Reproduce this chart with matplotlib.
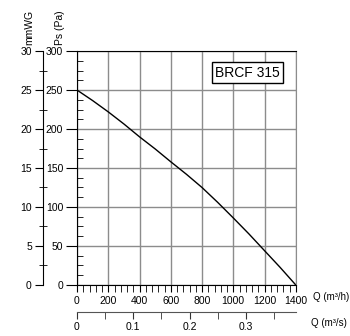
import matplotlib
matplotlib.use('Agg')
import matplotlib.pyplot as plt
from matplotlib.ticker import MultipleLocator, FuncFormatter

plt.rcParams['font.family'] = ['Liberation Sans', 'DejaVu Sans']

# fan curve BRCF 315
flow_m3h = [0, 100, 200, 300, 400, 500, 600, 700, 800, 900, 1000, 1100, 1200, 1300, 1400]
pressure_pa = [250, 236.5, 222, 206.5, 190, 174.5, 158, 142, 125, 106, 86, 65.5, 44, 22.5, 0]
model_name = 'BRCF 315'

q_max = 1400
ps_max = 300
mmwg_max = 30

fig = plt.figure(figsize=(3.5, 3.36), dpi=100)
pos = [0.22, 0.152, 0.625, 0.696]

# secondary scales drawn first so main axes sit on top
ax_mm = fig.add_axes(pos)
ax_mm.patch.set_visible(False)
for s in ['top', 'right', 'bottom']:
    ax_mm.spines[s].set_visible(False)
ax_mm.spines['left'].set_position(('outward', 24.5))
ax_mm.set_ylim(0, mmwg_max)
ax_mm.set_xticks([])
ax_mm.yaxis.set_major_locator(MultipleLocator(5))
ax_mm.yaxis.set_minor_locator(MultipleLocator(2.5))
ax_mm.tick_params(axis='y', which='major', direction='out', length=6, labelsize=7.5, pad=2)
ax_mm.tick_params(axis='y', which='minor', direction='inout', length=6)

ax_qs = fig.add_axes(pos)
ax_qs.patch.set_visible(False)
for s in ['top', 'right', 'left']:
    ax_qs.spines[s].set_visible(False)
ax_qs.spines['bottom'].set_position(('outward', 19.5))
ax_qs.spines['bottom'].set_color('#555555')
ax_qs.set_xlim(0, q_max / 3600.0)
ax_qs.set_yticks([])
ax_qs.xaxis.set_major_locator(MultipleLocator(0.1))
ax_qs.xaxis.set_minor_locator(MultipleLocator(0.05))
ax_qs.xaxis.set_major_formatter(FuncFormatter(lambda v, p: '0' if v == 0 else '%.1f' % v))
ax_qs.tick_params(axis='x', which='both', direction='out', length=5, labelsize=7.5, pad=2,
                  color='#333333')

ax = fig.add_axes(pos)
ax.patch.set_visible(False)
ax.set_xlim(0, q_max)
ax.set_ylim(0, ps_max)
ax.xaxis.set_major_locator(MultipleLocator(200))
ax.xaxis.set_minor_locator(MultipleLocator(40))
ax.yaxis.set_major_locator(MultipleLocator(50))
ax.yaxis.set_minor_locator(MultipleLocator(12.5))
ax.grid(True, which='major', color='#8c8c8c', linewidth=1.0)
ax.tick_params(axis='y', which='major', direction='out', length=8, labelsize=7.5, pad=2)
ax.tick_params(axis='y', which='minor', direction='in', length=4)
ax.tick_params(axis='x', which='major', direction='out', length=5, labelsize=7.5, pad=3)
ax.tick_params(axis='x', which='minor', direction='out', length=5)
ax.spines['right'].set_color('#8c8c8c')
ax.plot(flow_m3h, pressure_pa, color='black', linewidth=1.0)

ax.text(0.78, 0.907, model_name, transform=ax.transAxes, fontsize=10,
        ha='center', va='center', zorder=5,
        bbox=dict(boxstyle='square,pad=0.25', facecolor='white', edgecolor='black', linewidth=1.0))

fig.text(313 / 350, 1 - 297 / 336, 'Q (m³/h)', fontsize=7, ha='left', va='center')
fig.text(311 / 350, 1 - 323 / 336, 'Q (m³/s)', fontsize=7, ha='left', va='center')
fig.text(29.5 / 350, 1 - 27 / 336, 'mmWG', fontsize=7.5, rotation=90, ha='center', va='center')
fig.text(60 / 350, 1 - 28 / 336, 'Ps (Pa)', fontsize=7.5, rotation=90, ha='center', va='center')

fig.savefig('out.png', dpi=100)
